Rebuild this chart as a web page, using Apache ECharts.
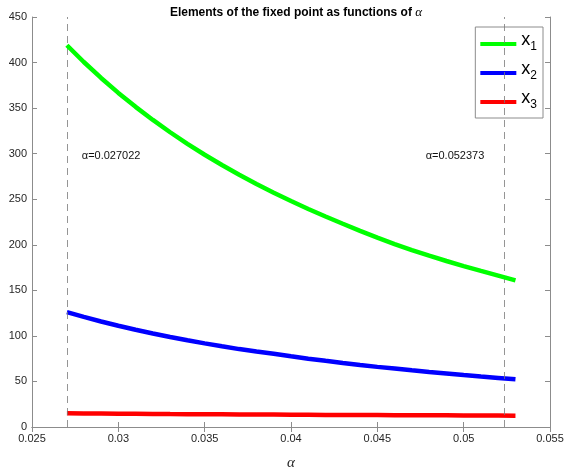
<!DOCTYPE html>
<html><head><meta charset="utf-8">
<script src="https://cdn.jsdelivr.net/npm/echarts@6/dist/echarts.min.js"></script>
<style>html,body{margin:0;padding:0;background:#fff}#c{width:566px;height:470px}</style>
</head><body><div id="c"></div>
<script>
// ---- data ----
const alpha = [0.027022,0.028,0.029,0.030,0.031,0.032,0.033,0.034,0.035,0.036,0.037,0.038,0.039,0.040,0.041,0.042,0.043,0.044,0.045,0.046,0.047,0.048,0.049,0.050,0.051,0.052,0.053];
const x1 = [419,400.6,383.1,366.7,351.4,337,323.5,310.8,298.8,287.5,276.8,266.7,257.1,248,239.3,231,223.1,215.3,207.8,200.8,194.2,188,182.2,176.6,171.3,166.2,161];
const x2 = [126,120.8,115.8,111.1,106.7,102.7,98.8,95.2,91.8,88.6,85.5,82.8,80.3,77.6,75,72.6,70.3,68.1,66,64.1,62.2,60.4,58.7,57,55.4,53.9,52.4];
const x3 = [15.0,14.9,14.8,14.6,14.5,14.4,14.2,14.1,14.0,13.9,13.8,13.7,13.6,13.5,13.4,13.3,13.2,13.2,13.1,13.0,12.9,12.8,12.8,12.7,12.6,12.5,12.4];
const seriesNames = ['x1','x2','x3'];
const markAlphas = [0.027022, 0.052373];
const markLabels = ['\u03b1=0.027022', '\u03b1=0.052373'];
const markLabelPos = [[0.027884, 298], [0.04780, 298]];
const titleText = 'Elements of the fixed point as functions of ';
const xName = '\u03b1';

const colors = ['#00ff00', '#0000ff', '#ff0000'];
const font = '"Liberation Sans", Arial, Helvetica, sans-serif';
const serif = '"Liberation Serif", "DejaVu Serif", serif';
const axisGray = '#8c8c8c';
const txt = '#262626';

const chart = echarts.init(document.getElementById('c'), null, {renderer:'canvas'});
const ys = [x1, x2, x3];
const series = ys.map((arr, i) => ({
  name: seriesNames[i], type: 'line', showSymbol: false, symbol: 'none',
  data: alpha.map((a, j) => [a, arr[j]]),
  lineStyle: {color: colors[i], width: 4.5}, itemStyle: {color: colors[i]},
  z: 5 - i, animation: false
}));
series[0].markLine = {
  symbol: ['none','none'], silent: true, label: {show: false}, animation: false,
  lineStyle: {color: '#7a7a7a', type: [7,5], width: 0.8},
  data: markAlphas.map(a => [{coord: [a, 0]}, {coord: [a, 450]}])
};
series[0].markPoint = {
  symbol: 'circle', symbolSize: 0, silent: true, animation: false,
  label: {show: true, position: 'right', distance: 0, color: '#111', fontFamily: font, fontSize: 11,
    formatter: p => p.name},
  data: markLabelPos.map((c, i) => ({coord: c, name: markLabels[i]}))
};

const grid = {left: 32, right: 16, top: 17, bottom: 43, containLabel: false, outerBoundsMode: 'none'};
const xCommon = {type:'value', min:0.025, max:0.055, interval:0.005, splitLine:{show:false}};
const yCommon = {type:'value', min:0, max:450, interval:50, splitLine:{show:false}};
const lineAx = {show: true, lineStyle: {color: axisGray, width: 1}};
const tickAx = {show: true, inside: true, length: 5, lineStyle: {color: axisGray}};
chart.setOption({
  animation: false,
  backgroundColor: '#fff',
  title: {
    text: '{t|' + titleText + '}{a|\u03b1}',
    left: 291, top: 1, textAlign: 'center',
    textStyle: {rich: {
      t: {fontFamily: font, fontWeight: 'bold', fontSize: 12, color: '#000'},
      a: {fontFamily: serif, fontStyle: 'italic', fontWeight: 'normal', fontSize: 13, color: '#000'}
    }}
  },
  grid: grid,
  legend: {
    orient: 'vertical', right: 23, top: 27,
    data: seriesNames,
    backgroundColor: '#fff', borderColor: '#8c8c8c', borderWidth: 1, borderRadius: 0,
    padding: [4, 6, 3, 5], itemGap: 3, itemWidth: 36, itemHeight: 4,
    icon: 'rect',
    formatter: n => '{b|x}{s|' + n.slice(1) + '}',
    textStyle: {rich: {
      b: {fontFamily: font, fontSize: 18, lineHeight: 17, padding: [0,0,8,0], color: '#000'},
      s: {fontFamily: font, fontSize: 12, lineHeight: 12, verticalAlign: 'bottom', color: '#000'}
    }}
  },
  xAxis: [
    Object.assign({}, xCommon, {
      position: 'bottom',
      name: xName, nameLocation: 'middle', nameGap: 29,
      nameTextStyle: {fontFamily: serif, fontStyle: 'italic', fontSize: 15, color: txt},
      axisLine: lineAx, axisTick: tickAx,
      axisLabel: {show: true, color: txt, fontFamily: font, fontSize: 11, margin: 6,
        formatter: v => String(+v.toFixed(3))}
    }),
    Object.assign({}, xCommon, {position: 'top', axisLine: lineAx, axisTick: tickAx, axisLabel: {show: false}})
  ],
  yAxis: [
    Object.assign({}, yCommon, {
      position: 'left', axisLine: lineAx, axisTick: tickAx,
      axisLabel: {show: true, color: txt, fontFamily: font, fontSize: 11, margin: 5}
    }),
    Object.assign({}, yCommon, {position: 'right', axisLine: lineAx, axisTick: tickAx, axisLabel: {show: false}})
  ],
  series: series
});
</script></body></html>
